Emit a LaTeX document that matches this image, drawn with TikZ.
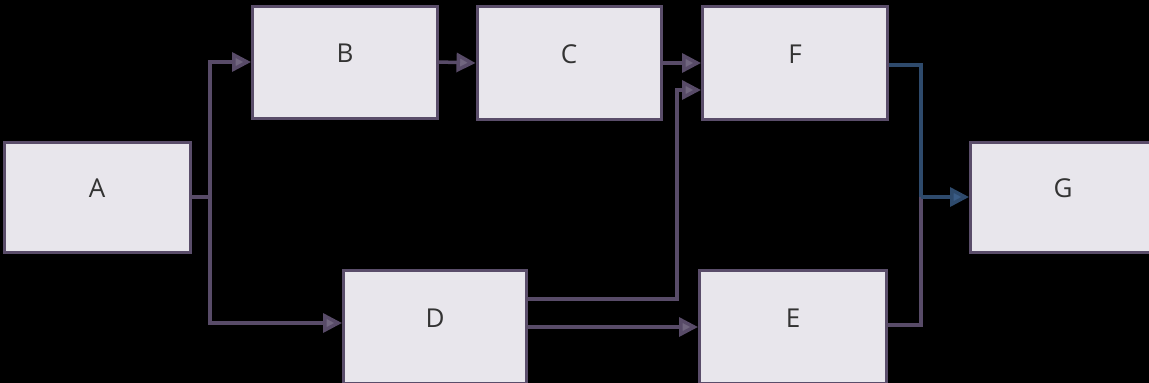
\documentclass[tikz,border=0pt]{standalone}
\usepackage{fontspec}
\setmainfont{Open Sans}
\usetikzlibrary{arrows.meta}
\definecolor{boxfill}{HTML}{E8E6EC}
\definecolor{boxline}{HTML}{5A4D6A}
\definecolor{conn}{HTML}{584B68}
\definecolor{blueconn}{HTML}{2E4A6C}
\definecolor{bluetip}{HTML}{3A5C86}
\newcommand{\lbl}[1]{\raisebox{0pt}[0pt][0pt]{#1}}
\tikzset{
  box/.style={draw=boxline, line width=3pt, fill=boxfill, minimum width=#1, minimum height=110pt, inner sep=0pt, font=\fontsize{26}{30}\selectfont, text=black!80},
  box/.default=184pt,
  link/.style={draw=conn, line width=3.5pt},
  arr/.style={link, -{Triangle[length=19pt,width=19pt,fill=conn!85!white]}},
  bluelink/.style={draw=blueconn, line width=3.5pt},
  bluearr/.style={bluelink, -{Triangle[length=19pt,width=19pt,fill=bluetip]}}
}
\begin{document}
\begin{tikzpicture}[x=1pt,y=-1pt]
\fill[black] (0,0) rectangle (1149,383);
\useasboundingbox (0,0) rectangle (1149,383);
\node[box=186pt] (A) at (97,197) {\lbl{A}};
\node[box=185pt, minimum height=112pt] (B) at (345,62) {\lbl{B}};
\node[box=184pt, minimum height=113pt] (C) at (569,63) {\lbl{C}};
\node[box=185pt, minimum height=113pt] (F) at (795,63) {\lbl{F}};
\node[box=183pt, minimum height=113pt] (D) at (435,327) {\lbl{D}};
\node[box=187pt, minimum height=113pt] (E) at (793,327) {\lbl{E}};
\node[box=185pt] (G) at (1063,197) {\lbl{G}};
\coordinate (split) at (210,197);
\coordinate (dfturn) at (677,299);
\coordinate (join) at (921,197);
\draw[link] (A.east) -- (split);
\draw[arr] (split) |- (B.west);
\draw[arr] (split) |- ([yshift=4pt]D.west);
\draw[arr] (B.east) -- (C.west);
\draw[arr] (C.east) -- (F.west);
\draw[arr] ([yshift=28pt]D.east) -| (dfturn) |- ([yshift=-27pt]F.west);
\draw[arr] (D.east) -- (E.west);
\draw[bluelink] ([yshift=-2pt]F.east) -| (join);
\draw[link] ([yshift=2pt]E.east) -| (join);
\draw[bluearr] (join) -- (G.west);
\end{tikzpicture}
\end{document}
